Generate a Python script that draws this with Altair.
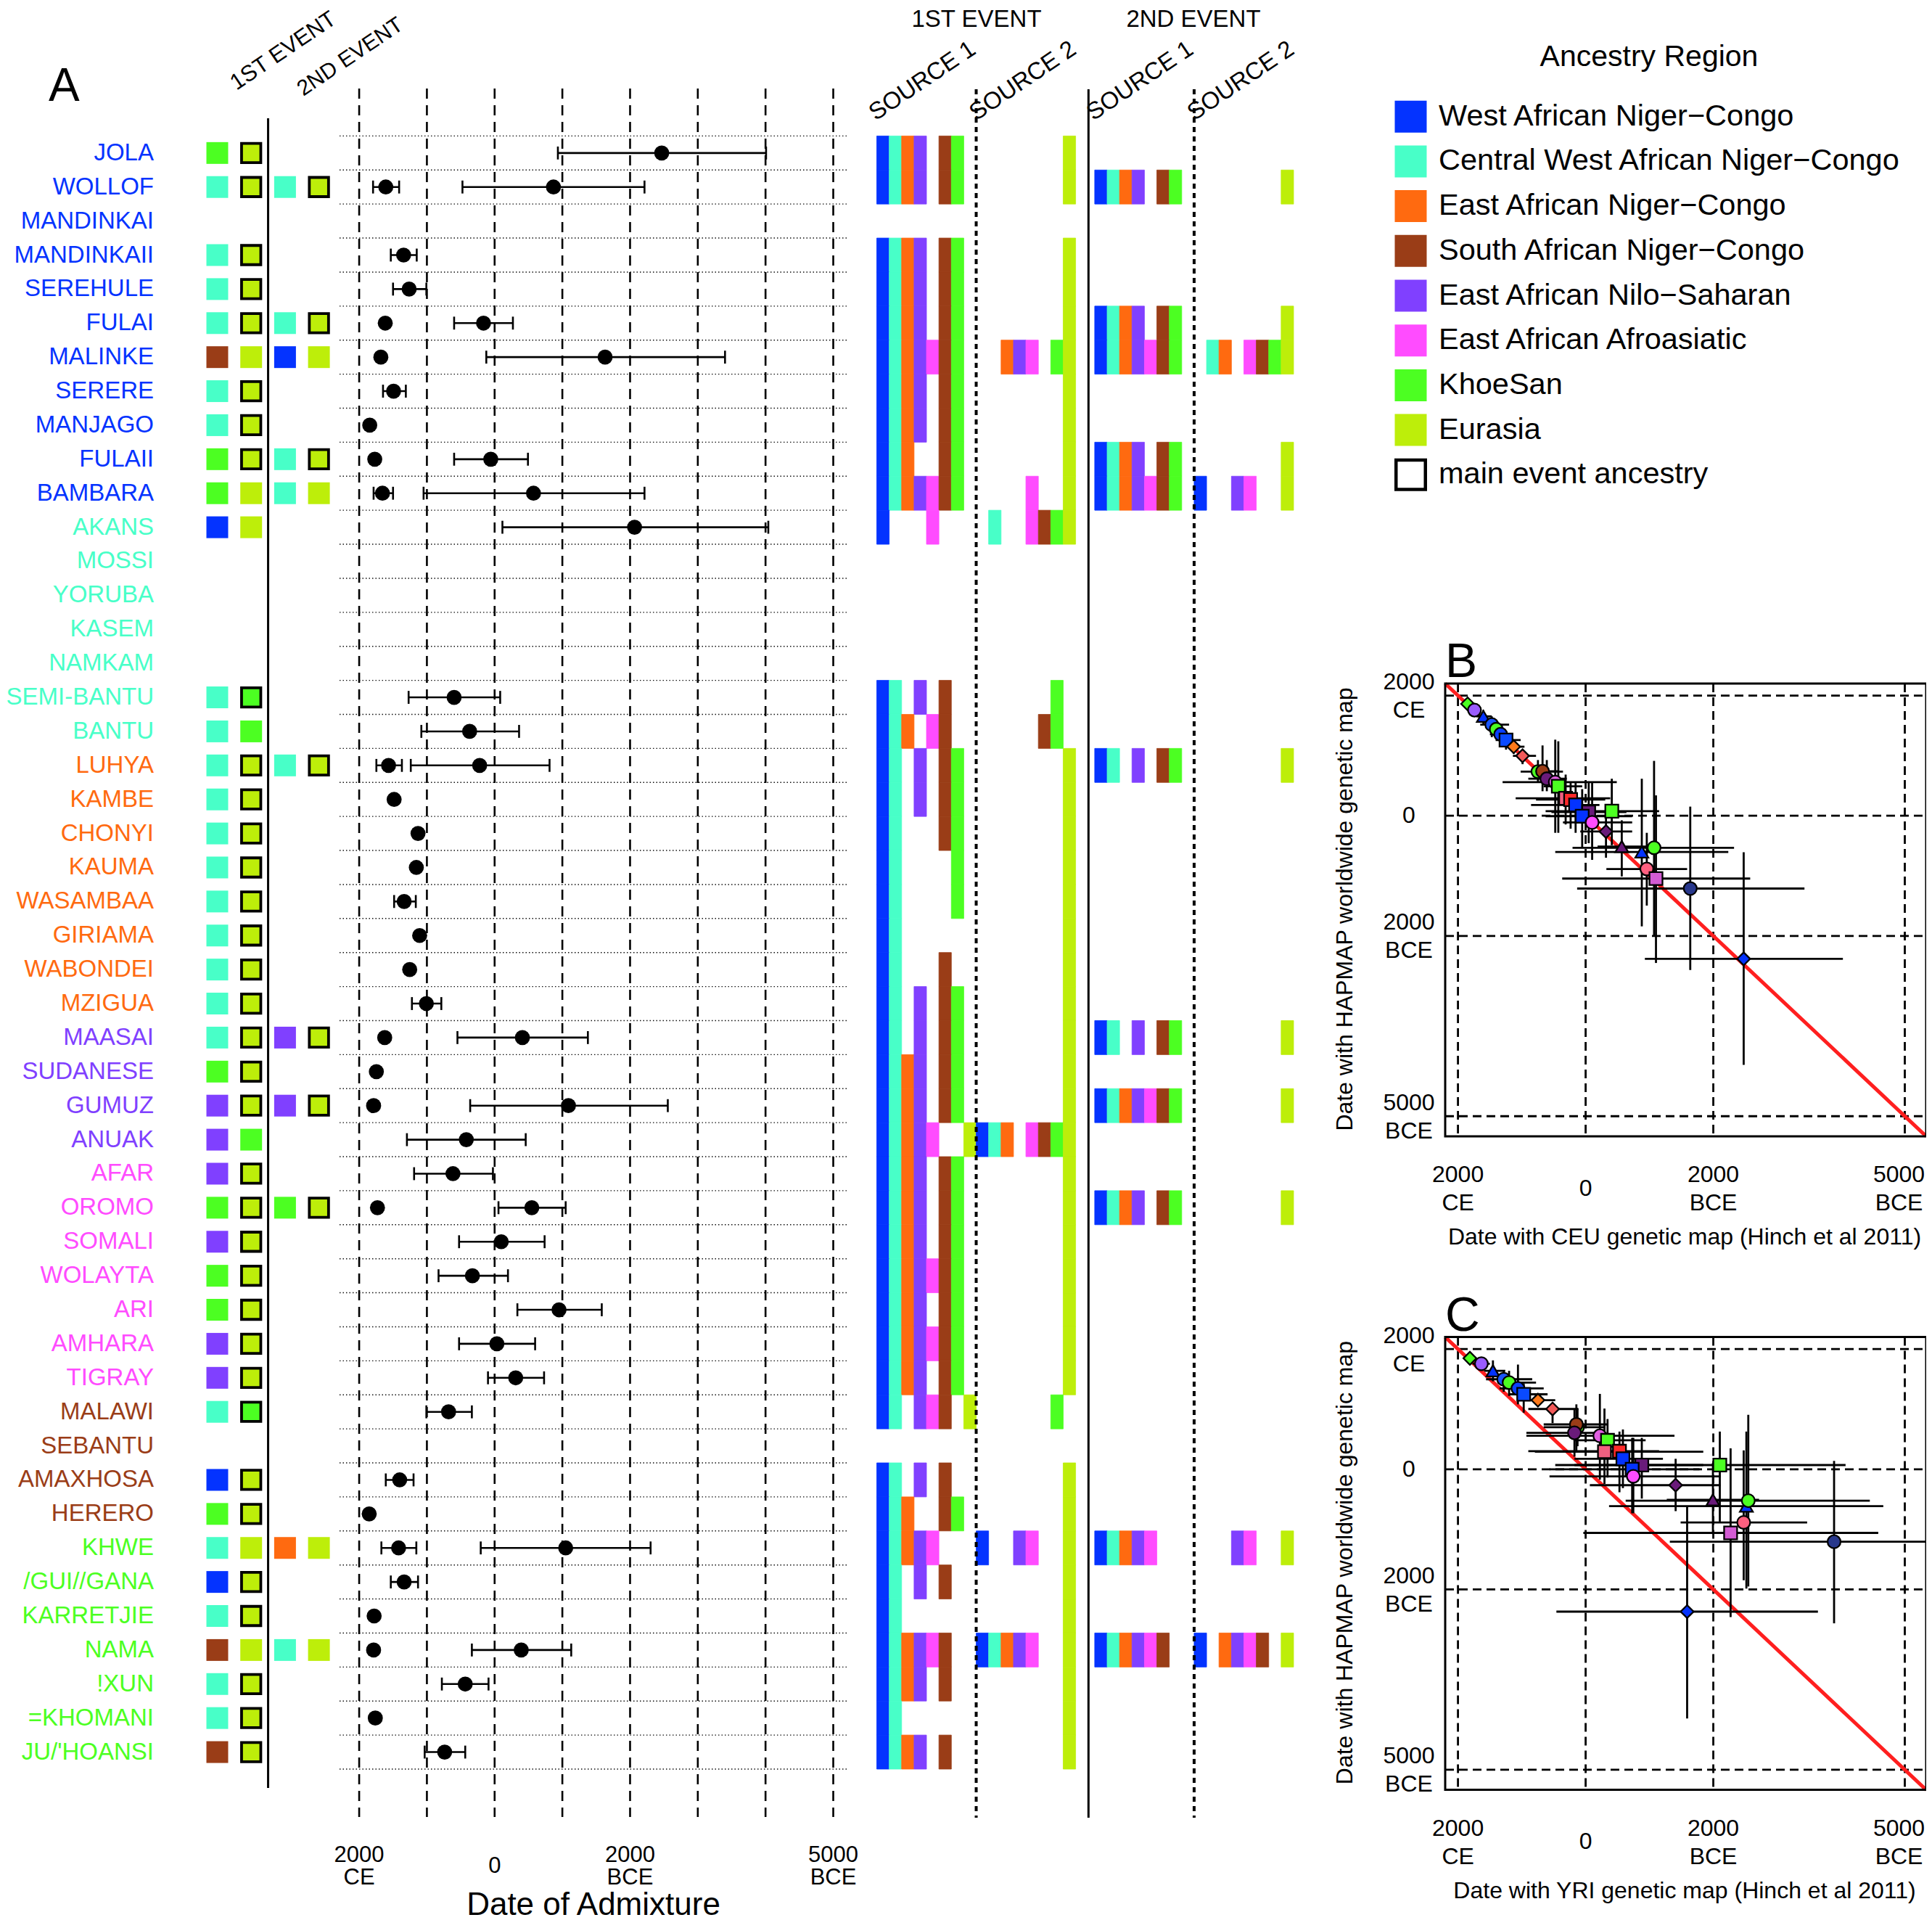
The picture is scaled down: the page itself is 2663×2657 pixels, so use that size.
import altair as alt
import pandas as pd

FONT = "Liberation Sans"

# ---------------- Panel A data ----------------
populations = [
    "JOLA", "WOLLOF", "MANDINKAI", "MANDINKAII", "SEREHULE", "FULAI", "MALINKE", "SERERE",
    "MANJAGO", "FULAII", "BAMBARA", "AKANS", "MOSSI", "YORUBA", "KASEM", "NAMKAM",
    "SEMI-BANTU", "BANTU", "LUHYA", "KAMBE", "CHONYI", "KAUMA", "WASAMBAA", "GIRIAMA",
    "WABONDEI", "MZIGUA", "MAASAI", "SUDANESE", "GUMUZ", "ANUAK", "AFAR", "OROMO",
    "SOMALI", "WOLAYTA", "ARI", "AMHARA", "TIGRAY", "MALAWI", "SEBANTU", "AMAXHOSA",
    "HERERO", "KHWE", "/GUI//GANA", "KARRETJIE", "NAMA", "!XUN", "=KHOMANI", "JU/'HOANSI",
]
label_region = ["W"] * 11 + ["C"] * 7 + ["E"] * 8 + ["N"] * 4 + ["A"] * 7 + ["S"] * 4 + ["K"] * 7

region_codes = ["W", "C", "E", "S", "N", "A", "K", "U"]
region_names = ["West African Niger−Congo", "Central West African Niger−Congo",
                "East African Niger−Congo", "South African Niger−Congo",
                "East African Nilo−Saharan", "East African Afroasiatic", "KhoeSan", "Eurasia"]
region_colors = ["#0433FF", "#48FFC8", "#FF6A10", "#9A3D17", "#8040FF", "#FF4CFF", "#4CFF22", "#BDEE0A"]
bar_column_order = ["W", "C", "E", "N", "A", "S", "K", "U"]
CODE_COLOR = dict(zip(region_codes, region_colors))

# squares: "<source> <main>[*]"  (* = main event ancestry box)
ev1_squares = [
    "K U*", "C U*", "", "C U*", "C U*", "C U*", "S U", "C U*", "C U*", "K U*", "K U", "W U",   # 1-12
    "", "", "", "",                                                                            # 13-16
    "C K*", "C K", "C U*", "C U*", "C U*", "C U*", "C U*", "C U*", "C U*", "C U*",             # 17-26
    "C U*", "K U*", "N U*", "N K",                                                             # 27-30
    "N U*", "K U*", "N U*", "K U*", "K U*", "N U*", "N U*",                                    # 31-37
    "C K*", "", "W U*", "K U*",                                                                # 38-41
    "C U", "W U*", "C U*", "S U", "C U*", "C U*", "S U*",                                      # 42-48
]
ev2_squares = [
    "", "C U*", "", "", "", "C U*", "W U", "", "", "C U*", "C U", "",
    "", "", "", "",
    "", "", "C U*", "", "", "", "", "", "", "",
    "N U*", "", "N U*", "",
    "", "K U*", "", "", "", "", "",
    "", "", "", "",
    "E U", "", "", "C U", "", "", "",
]

# dates (calendar year, CE positive); lo/hi = error bar ends
ev1_mid = [-2467, 1607, None, 1344, 1262, 1615, 1680, 1492, 1844, 1770, 1656, -2066,
           None, None, None, None,
           598, 369, 1566, 1484, 1131, 1156, 1336, 1107, 1254, 1008,
           1623, 1746, 1787, 418,
           615, 1730, -98, 328, -951, -33, -311,
           680, None, 1402, 1852,
           1418, 1336, 1779, 1787, 434, 1762, 738]
ev1_lo = [-934, 1795, None, 1533, 1500, None, None, 1648, None, None, 1787, -115,
          None, None, None, None,
          1270, 1082, 1746, None, None, None, 1484, None, None, 1221,
          None, None, None, 1295,
          1189, None, 525, 828, -336, 525, 98,
          1008, None, 1607, None,
          1672, 1533, None, None, 779, None, 1033]
ev1_hi = [-4008, 1410, None, 1150, 1008, None, None, 1311, None, None, 1500, -4041,
          None, None, None, None,
          -82, -361, 1369, None, None, None, 1164, None, None, 787,
          None, None, None, -459,
          25, None, -738, -197, -1582, -598, -730,
          336, None, 1197, None,
          1156, 1131, None, None, 90, None, 434]
ev2_mid = [None, -869, None, None, None, 164, -1631, None, None, 57, -574, None,
           None, None, None, None,
           None, None, 221, None, None, None, None, None, None, None,
           -410, None, -1090, None,
           None, -549, None, None, None, None, None,
           None, None, None, None,
           -1049, None, None, -393, None, None, None]
ev2_lo = [None, 475, None, None, None, 598, 123, None, None, 598, 1049, None,
          None, None, None, None,
          None, None, 1238, None, None, None, None, None, None, None,
          549, None, 361, None,
          None, -57, None, None, None, None, None,
          None, None, None, None,
          205, None, None, 336, None, None, None]
ev2_hi = [None, -2213, None, None, None, -270, -3402, None, None, -492, -2213, None,
          None, None, None, None,
          None, None, -811, None, None, None, None, None, None, None,
          -1377, None, -2557, None,
          None, -1049, None, None, None, None, None,
          None, None, None, None,
          -2303, None, None, -1131, None, None, None]

# source ancestry components present (codes, see bar_column_order)
ev1_src1 = ["WCENSK", "WCENSK", "", "WCENSK", "WCENSK", "WCENSK", "WCENASK", "WCENSK", "WCENSK", "WCESK", "WCENASK", "WA",
            "", "", "", "",
            "WCNS", "WCEAS", "WCNSK", "WCNSK", "WCSK", "WCK", "WCK", "WC", "WCS", "WCNSK",
            "WCNSK", "WCENSK", "WCENSK", "WCENAU",
            "WCENSK", "WCENSK", "WCENSK", "WCENASK", "WCENSK", "WCENASK", "WCENSK",
            "WCNASU", "", "WCNS", "WCESK",
            "WCENA", "WCNS", "WC", "WCENAS", "WCENS", "WC", "WCENS"]
ev1_src2 = ["U", "U", "", "U", "U", "U", "ENAKU", "U", "U", "U", "AU", "CASKU",
            "", "", "", "",
            "K", "SK", "U", "U", "U", "U", "U", "U", "U", "U",
            "U", "U", "U", "WCEASKU",
            "U", "U", "U", "U", "U", "U", "U",
            "K", "", "U", "U",
            "WNAU", "U", "U", "WCENAU", "U", "U", "U"]
ev2_src1 = ["", "WCENSK", "", "", "", "WCENSK", "WCENASK", "", "", "WCENSK", "WCENASK", "",
            "", "", "", "",
            "", "", "WCNSK", "", "", "", "", "", "", "",
            "WCNSK", "", "WCENASK", "",
            "", "WCENSK", "", "", "", "", "",
            "", "", "", "",
            "WCENA", "", "", "WCENAS", "", "", ""]
ev2_src2 = ["", "U", "", "", "", "U", "CEASKU", "", "", "U", "WNAU", "",
            "", "", "", "",
            "", "", "U", "", "", "", "", "", "", "",
            "U", "", "U", "",
            "", "U", "", "", "", "", "",
            "", "", "", "",
            "NAU", "", "", "WENASU", "", "", ""]

date_grid_years = [2000, 1000, 0, -1000, -2000, -3000, -4000, -5000]
axis_years = [2000, -2000, -5000]
axis_line1 = ["2000", "2000", "5000"]
axis_line2 = ["CE", "BCE", "BCE"]
panel_grid_years = [2000, 0, -2000, -5000]

# ---------------- Panels B / C data ----------------
pt_shape = ["diamond", "circle", "triangle-up", "circle", "circle", "circle", "square", "diamond",
            "diamond", "circle", "circle", "circle", "circle", "square", "square", "square",
            "square", "square", "square", "square", "circle", "diamond", "triangle-up",
            "triangle-up", "circle", "circle", "square", "circle", "diamond"]
pt_color = ["#4CFF22", "#9A5CFF", "#0433FF", "#1A55FF", "#4CFF22", "#0A40FF", "#0A4AFF", "#FF7A1A",
            "#F25A5A", "#4CFF22", "#9A3D17", "#6A1B7A", "#E060E0", "#4CFF22", "#F06080", "#FF2A2A",
            "#0433FF", "#6A1B7A", "#0433FF", "#4CFF22", "#FF4CFF", "#6A1B7A", "#6A1B7A",
            "#0433FF", "#4CFF22", "#FF6080", "#D45CD4", "#28388C", "#0433FF"]
b_x = [1849, 1741, 1602, 1470, 1400, 1331, 1247, 1127, 988, 747, 675, 608, 476, 428, 313, 235,
       157, -48, 54, -410, -102, -319, -566, -880, -1072, -958, -1102, -1639, -2476]
b_y = [1862, 1758, 1654, 1516, 1440, 1356, 1260, 1149, 997, 734, 740, 616, 560, 491, 291, 270,
       180, 62, -7, 76, -111, -263, -512, -602, -533, -886, -1045, -1211, -2381]
b_xlo = [1922, 1831, 1711, 1651, 1500, 1500, 1410, 1259, 1139, 1018, 837, 898, 1301, 657, 1096, 777,
         855, 536, 627, 627, 355, 84, -187, 476, 205, -325, 367, 133, -928]
b_xhi = [1771, 1651, 1470, 1199, 1290, 1139, 1018, 958, 777, 355, 416, 295, -488, 54, -386, -307,
         -217, -639, -729, -1151, -729, -729, -970, -2235, -2325, -1590, -2578, -3428, -4030]
b_ylo = [1931, 1862, 1758, 1654, 1520, 1481, 1412, 1239, 1100, 927, 1170, 927, 1266, 1239, 685, 547,
         547, 547, 443, 616, 547, 62, -76, 616, 913, -284, 339, 152, -609]
b_yhi = [1792, 1654, 1516, 1308, 1360, 1170, 1100, 1031, 858, 547, 408, 408, -284, -284, -145, -215,
         -284, -457, -526, -491, -734, -699, -1010, -1841, -2014, -1495, -2450, -2567, -4145]

c_x = [1813, 1633, 1452, 1283, 1199, 1060, 970, 747, 518, 127, 145, 175, -223, -343, -295, -530,
       -584, -880, -729, -2102, -747, -1410, -1994, -2518, -2548, -2476, -2271, -3892, -1590]
c_y = [1847, 1756, 1638, 1498, 1443, 1345, 1247, 1150, 1003, 700, 746, 606, 557, 481, 293, 300,
       174, 70, 0, 70, -118, -265, -509, -613, -523, -885, -1059, -1206, -2369]
c_xlo = [1892, 1771, 1590, 1560, 1380, 1349, 1199, 958, 898, 657, 657, 928, 928, 175, 795, 898,
         175, 476, 566, 175, 566, -66, -1271, -367, -627, -1488, 36, -1319, 458]
c_xhi = [1711, 1500, 1259, 837, 777, 657, 596, 476, 114, -307, -337, -307, -1392, -940, -1843, -1151,
         -1211, -1843, -1783, -4072, -2114, -2114, -2717, -4663, -4452, -3470, -4584, -5325, -3639]
c_ylo = [1916, 1847, 1812, 1638, 1638, 1742, 1429, 1254, 1080, 1010, 1080, 1010, 1254, 836, 1010, 627,
         662, 523, 523, 627, 523, 174, 105, 627, 906, 314, 348, 139, -627]
c_yhi = [1763, 1638, 1463, 1289, 1220, 1080, 941, 1045, 767, 383, 279, 209, -174, -139, -244, -383,
         -314, -488, -732, -871, -732, -697, -1080, -1986, -1951, -1847, -2460, -2564, -4146]

# ---------------- helpers ----------------
def sc(domain, rng):
    return alt.Scale(domain=domain, range=rng, zero=False, nice=False)


def qx(field, scale):
    return alt.X(field, type="quantitative", scale=scale, axis=None)


def qy(field, scale):
    return alt.Y(field, type="quantitative", scale=scale, axis=None)


def ann(text, x, y, size, align="left", baseline="alphabetic", angle=0, color="black"):
    props = dict(font=FONT, fontSize=size, align=align, baseline=baseline, color=color)
    if angle:
        props["angle"] = angle
    return alt.Chart(pd.DataFrame({"t": [text]})).mark_text(**props).encode(
        text="t:N", x=alt.value(x), y=alt.value(y))


ROW = sc([0, 48], [179.4, 2430.0])
DATE_X = sc([2290, -5230], [460, 1162])
SQ_X = sc([0, 3], [291.5, 431.6])
SRC1_X = sc([0, 16], [1200.5, 1474.6])
SRC2_X = sc([0, 16], [1500.9, 1775.0])
LEG_Y = sc([0, 8], [152.7, 646.3])
PANEL_DOMAIN = [2200, -5335]
BX = sc(PANEL_DOMAIN, [1984, 2647])

L = []

# ---- Panel A: grid
grid_df = pd.DataFrame({"yr": date_grid_years})
L.append(alt.Chart(grid_df).mark_rule(color="black", strokeWidth=2.6, strokeDash=[14, 9]).encode(
    x=qx("yr", DATE_X), y=alt.value(114), y2=alt.value(2496)))
bounds_df = pd.DataFrame({"b": list(range(49))})
L.append(alt.Chart(bounds_df).mark_rule(color="#111111", strokeWidth=1.4, strokeDash=[1.5, 3]).encode(
    y=qy("b", ROW), x=alt.value(460), x2=alt.value(1162)))

# ---- dates
pts, errs = [], []
for r in range(48):
    for mid, lo, hi in ((ev1_mid[r], ev1_lo[r], ev1_hi[r]), (ev2_mid[r], ev2_lo[r], ev2_hi[r])):
        if mid is not None:
            pts.append({"yc": r + 0.5, "mid": mid})
        if lo is not None:
            errs.append({"yc": r + 0.5, "lo": lo, "hi": hi, "c0": r + 0.31, "c1": r + 0.69})
pts_df = pd.DataFrame(pts)
err_df = pd.DataFrame(errs)
L.append(alt.Chart(err_df).mark_rule(color="black", strokeWidth=2.6).encode(
    x=qx("lo", DATE_X), x2="hi", y=qy("yc", ROW)))
L.append(alt.Chart(err_df).mark_rule(color="black", strokeWidth=2.6).encode(
    x=qx("lo", DATE_X), y=qy("c0", ROW), y2="c1"))
L.append(alt.Chart(err_df).mark_rule(color="black", strokeWidth=2.6).encode(
    x=qx("hi", DATE_X), y=qy("c0", ROW), y2="c1"))
L.append(alt.Chart(pts_df).mark_circle(size=430, color="black", opacity=1).encode(
    x=qx("mid", DATE_X), y=qy("yc", ROW)))

# ---- population labels
rows_df = pd.DataFrame({"yc": [r + 0.5 for r in range(48)], "label": populations,
                        "color": [CODE_COLOR[c] for c in label_region]})
L.append(alt.Chart(rows_df).mark_text(align="right", baseline="middle", font=FONT, fontSize=33).encode(
    x=alt.value(204), y=qy("yc", ROW), text="label:N", color=alt.Color("color:N", scale=None)))

# ---- squares
sq = []
for r in range(48):
    for base, s in ((0, ev1_squares[r]), (2, ev2_squares[r])):
        if not s:
            continue
        src, main = s.split()
        sq.append({"yc": r + 0.5, "col": base, "color": CODE_COLOR[src], "boxed": 0})
        sq.append({"yc": r + 0.5, "col": base + 1, "color": CODE_COLOR[main[0]],
                   "boxed": 1 if main.endswith("*") else 0})
sq_df = pd.DataFrame(sq)
L.append(alt.Chart(sq_df[sq_df.boxed == 0]).mark_square(size=900, filled=True, opacity=1).encode(
    x=qx("col", SQ_X), y=qy("yc", ROW), color=alt.Color("color:N", scale=None)))
L.append(alt.Chart(sq_df[sq_df.boxed == 1]).mark_square(
    size=702, filled=True, opacity=1, stroke="black", strokeWidth=3.8).encode(
    x=qx("col", SQ_X), y=qy("yc", ROW), color=alt.Color("color:N", scale=None)))
L.append(alt.Chart(pd.DataFrame({"c": [1.5]})).mark_rule(color="black", strokeWidth=3).encode(
    x=qx("c", SQ_X), y=alt.value(155), y2=alt.value(2456)))

# ---- source bars
bars = []
for r in range(48):
    for ev, s1, s2 in ((1, ev1_src1[r], ev1_src2[r]), (2, ev2_src1[r], ev2_src2[r])):
        for off, s in ((0, s1), (8, s2)):
            for code in s:
                c = bar_column_order.index(code) + off
                bars.append({"ev": ev, "r0": r, "r1": r + 1, "c0": c, "c1": c + 1, "color": CODE_COLOR[code]})
bars_df = pd.DataFrame(bars)
for ev, scx in ((1, SRC1_X), (2, SRC2_X)):
    L.append(alt.Chart(bars_df[bars_df.ev == ev]).mark_rect(opacity=1, strokeWidth=0.8).encode(
        x=qx("c0", scx), x2="c1", y=qy("r0", ROW), y2="r1",
        color=alt.Color("color:N", scale=None), stroke=alt.Stroke("color:N", scale=None)))
    L.append(alt.Chart(pd.DataFrame({"c": [8]})).mark_rule(color="black", strokeWidth=4, strokeDash=[7, 6]).encode(
        x=qx("c", scx), y=alt.value(115), y2=alt.value(2497)))
L.append(alt.Chart(pd.DataFrame({"c": [-0.5]})).mark_rule(color="black", strokeWidth=3).encode(
    x=qx("c", SRC2_X), y=alt.value(115), y2=alt.value(2497)))

# ---- headers panel A
L.append(ann("A", 59, 131, 64))
L.append(ann("1ST EVENT", 318, 117, 31, angle=326))
L.append(ann("2ND EVENT", 410, 125, 30, angle=326))
L.append(ann("1ST EVENT", 1338, 19, 33, align="center", baseline="middle"))
L.append(ann("2ND EVENT", 1637, 19, 33, align="center", baseline="middle"))
for x in (1199, 1337.5, 1499, 1638):
    L.append(ann("SOURCE " + ("1" if x in (1199, 1499) else "2"), x, 159, 33, angle=326))

# ---- date axis labels
ax_df = pd.DataFrame({"yr": axis_years, "l1": axis_line1, "l2": axis_line2})
L.append(alt.Chart(ax_df).mark_text(font=FONT, fontSize=31, align="center", baseline="middle").encode(
    x=qx("yr", DATE_X), y=alt.value(2548.5), text="l1:N"))
L.append(alt.Chart(ax_df).mark_text(font=FONT, fontSize=31, align="center", baseline="middle").encode(
    x=qx("yr", DATE_X), y=alt.value(2579.5), text="l2:N"))
L.append(alt.Chart(pd.DataFrame({"yr": [0], "t": ["0"]})).mark_text(
    font=FONT, fontSize=31, align="center", baseline="middle").encode(
    x=qx("yr", DATE_X), y=alt.value(2564), text="t:N"))
L.append(ann("Date of Admixture", 810, 2631, 44, align="center"))

# ---- legend
leg_df = pd.DataFrame({"i": list(range(8)), "label": region_names, "color": region_colors})
L.append(ann("Ancestry Region", 2265, 71, 41, align="center", baseline="middle"))
L.append(alt.Chart(leg_df).mark_square(size=1936, filled=True, opacity=1).encode(
    x=alt.value(1936.5), y=qy("i", LEG_Y), color=alt.Color("color:N", scale=None)))
L.append(alt.Chart(pd.DataFrame({"i": [8]})).mark_square(
    size=1640, filled=True, opacity=1, color="white", stroke="black", strokeWidth=4.5).encode(
    x=alt.value(1936.5), y=qy("i", LEG_Y)))
leg_lab = pd.DataFrame({"i": list(range(9)), "label": region_names + ["main event ancestry"]})
L.append(alt.Chart(leg_lab).mark_text(font=FONT, fontSize=41.5, align="left", baseline="middle").encode(
    x=alt.value(1975), y=qy("i", LEG_Y), text="label:N"))


# ---- panels B and C
def scatter_panel(xs, ys, xlo, xhi, ylo, yhi, y_range, dy_off, letter, xtitle):
    BY = sc(PANEL_DOMAIN, y_range)
    out = []
    g = pd.DataFrame({"g": panel_grid_years, "a": PANEL_DOMAIN[0], "b": PANEL_DOMAIN[1]})
    out.append(alt.Chart(g).mark_rule(color="black", strokeWidth=2.8, strokeDash=[12, 7]).encode(
        x=qx("g", BX), y=qy("a", BY), y2="b"))
    out.append(alt.Chart(g).mark_rule(color="black", strokeWidth=2.8, strokeDash=[12, 7]).encode(
        y=qy("g", BY), x=qx("a", BX), x2="b"))
    out.append(alt.Chart(pd.DataFrame({"v": PANEL_DOMAIN})).mark_line(color="#FF1F1F", strokeWidth=5).encode(
        x=qx("v", BX), y=qy("v", BY)))
    d = pd.DataFrame({"x": xs, "y": ys, "xlo": xlo, "xhi": xhi, "ylo": ylo, "yhi": yhi,
                      "shape": pt_shape, "color": pt_color})
    out.append(alt.Chart(d).mark_rule(color="black", strokeWidth=2.8).encode(
        x=qx("xlo", BX), x2="xhi", y=qy("y", BY)))
    out.append(alt.Chart(d).mark_rule(color="black", strokeWidth=2.8).encode(
        x=qx("x", BX), y=qy("ylo", BY), y2="yhi"))
    out.append(alt.Chart(d).mark_point(filled=True, opacity=1, size=320, stroke="black", strokeWidth=2.3).encode(
        x=qx("x", BX), y=qy("y", BY), shape=alt.Shape("shape:N", scale=None),
        color=alt.Color("color:N", scale=None)))
    fr = pd.DataFrame({"a": [PANEL_DOMAIN[0]], "b": [PANEL_DOMAIN[1]]})
    out.append(alt.Chart(fr).mark_rect(fillOpacity=0, stroke="black", strokeWidth=3).encode(
        x=qx("a", BX), x2="b", y=qy("a", BY), y2="b"))
    t2 = pd.DataFrame({"g": axis_years, "l1": axis_line1, "l2": axis_line2})
    t0 = pd.DataFrame({"g": [0], "t": ["0"]})
    tp = dict(font=FONT, fontSize=32, align="center", baseline="middle")
    out.append(alt.Chart(t2).mark_text(dy=-18.5, **tp).encode(x=alt.value(1934), y=qy("g", BY), text="l1:N"))
    out.append(alt.Chart(t2).mark_text(dy=20.5, **tp).encode(x=alt.value(1934), y=qy("g", BY), text="l2:N"))
    out.append(alt.Chart(t0).mark_text(**tp).encode(x=alt.value(1934), y=qy("g", BY), text="t:N"))
    inner = t2[t2.g != -5000]
    outer = t2[t2.g == -5000]
    for sub, shift in ((inner, 0), (outer, -8)):
        out.append(alt.Chart(sub).mark_text(dx=shift, **tp).encode(
            x=qx("g", BX), y=alt.value(1611 + dy_off), text="l1:N"))
        out.append(alt.Chart(sub).mark_text(dx=shift, **tp).encode(
            x=qx("g", BX), y=alt.value(1650 + dy_off), text="l2:N"))
    out.append(alt.Chart(t0).mark_text(**tp).encode(x=qx("g", BX), y=alt.value(1629.6 + dy_off), text="t:N"))
    out.append(ann(xtitle, 2314, 1697 + dy_off, 32, align="center", baseline="middle"))
    out.append(ann("Date with HAPMAP worldwide genetic map", 1846, 1245 + dy_off, 32,
                   align="center", baseline="middle", angle=270))
    out.append(ann(letter, 1984, 925 + dy_off, 66))
    return out


L += scatter_panel(b_x, b_y, b_xlo, b_xhi, b_ylo, b_yhi, [934, 1558], 0, "B",
                   "Date with CEU genetic map (Hinch et al 2011)")
L += scatter_panel(c_x, c_y, c_xlo, c_xhi, c_ylo, c_yhi, [1834.6, 2458.6], 900.6, "C",
                   "Date with YRI genetic map (Hinch et al 2011)")

chart = alt.layer(*L).resolve_scale(x="independent", y="independent").properties(
    width=2647, height=2641, padding=0, autosize=alt.AutoSizeParams(type="none"),
    background="white").configure_view(stroke=None)

chart.save("out.html", embed_options={"renderer": "svg", "actions": False})
